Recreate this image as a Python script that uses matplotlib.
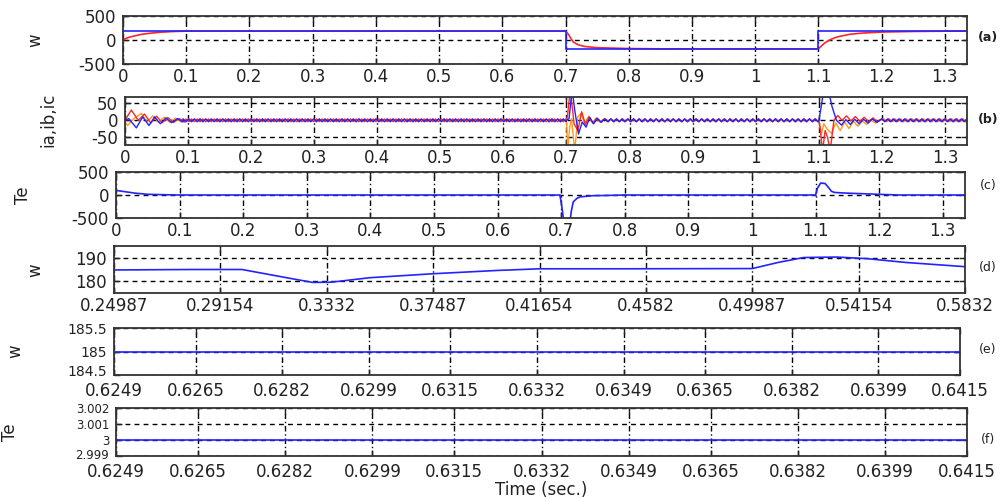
import numpy as np
import matplotlib.pyplot as plt
from matplotlib.transforms import ScaledTranslation

plt.rcParams['font.family'] = ['DejaVu Sans']

W, H = 1005, 499
BLUE = '#2323ff'
RED = '#ff2626'
ORANGE = '#ff9a1a'
FS = 12

# (a) speed: reference and measured
t_ref = [0, 0.7, 0.7, 1.1, 1.1, 1.335]
w_ref = [185, 185, -185, -185, 185, 185]
t_w = [0, 0.005, 0.01, 0.02, 0.03, 0.045, 0.06, 0.08, 0.1, 0.7, 0.702, 0.705,
       0.708, 0.712, 0.72, 0.73, 0.75, 0.8, 0.85, 0.9, 1.1, 1.105, 1.11, 1.12,
       1.13, 1.15, 1.17, 1.2, 1.25, 1.3, 1.335]
w_act = [0, 35, 60, 90, 120, 145, 162, 177, 185, 185, 160, 110,
         40, -40, -100, -135, -160, -178, -184, -185, -185, -120, -60, 15,
         65, 120, 145, 165, 178, 184, 185]

# (b) phase currents: transients after start, reversal and return
ia_t = [[0.000, 0.006, 0.018, 0.028, 0.038, 0.047, 0.056, 0.065, 0.074, 0.083, 0.092],
        [0.700, 0.704, 0.709, 0.713, 0.719, 0.725, 0.731, 0.737, 0.743, 0.749, 0.755, 0.761],
        [1.100, 1.103, 1.108, 1.115, 1.121, 1.128, 1.136, 1.143, 1.150, 1.157, 1.164,
         1.171, 1.178, 1.185, 1.192, 1.200]]
ia_v = [[0, 5, -22, 10, -15, 10, -10, 7, -7, 5, -5],
        [0, 5, 90, 30, -40, -5, -20, 8, -10, 6, -6, 4],
        [0, 30, 90, 90, 40, 0, -14, 2, -12, 3, -10, 3, -8, 4, -6, 4]]
ib_t = [[0.000, 0.010, 0.021, 0.031, 0.041, 0.050, 0.059, 0.068, 0.077, 0.086, 0.095],
        [0.700, 0.702, 0.706, 0.712, 0.718, 0.724, 0.730, 0.736, 0.742, 0.748, 0.754, 0.760],
        [1.100, 1.102, 1.106, 1.110, 1.114, 1.118, 1.124, 1.130, 1.137, 1.144, 1.151,
         1.158, 1.165, 1.172, 1.179, 1.186, 1.193, 1.200]]
ib_v = [[0, 30, 0, 18, -8, 12, -7, 8, -6, 5, -5],
        [0, 20, 90, -10, -30, 25, -12, 10, -8, 6, -5, 4],
        [0, -20, -90, -30, -50, -90, 0, 14, 0, 13, -2, 11, -3, 9, -4, 7, -4, 5]]
ic_t = [[0.000, 0.004, 0.014, 0.026, 0.035, 0.044, 0.053, 0.062, 0.071, 0.080, 0.089],
        [0.700, 0.702, 0.705, 0.708, 0.713, 0.718, 0.723, 0.729, 0.735, 0.741, 0.747, 0.753, 0.759],
        [1.100, 1.104, 1.108, 1.113, 1.120, 1.127, 1.134, 1.141, 1.148, 1.155, 1.162,
         1.169, 1.176, 1.183, 1.190, 1.200]]
ic_v = [[-5, -15, 5, 20, -5, 13, -6, 9, -6, 6, -5],
        [0, -90, -20, 5, -90, 10, 20, -10, 12, -8, 7, -5, 4],
        [0, -40, -10, -25, -38, -8, -30, -5, -24, -3, -17, -2, -12, 0, -8, 3]]
# steady-state ripple between transients
ripple_amp = 4
ripple_half = 0.0045

# (c) electromagnetic torque
t_te = [0, 0.01, 0.03, 0.05, 0.08, 0.1, 0.698, 0.701, 0.704, 0.714, 0.716, 0.719,
        0.725, 0.73, 0.75, 0.77, 0.8, 1.1, 1.103, 1.108, 1.115, 1.12, 1.125, 1.13,
        1.15, 1.2, 1.23, 1.335]
te = [100, 80, 40, 15, 5, 0, 0, -250, -560, -560, -350, -150,
      -70, -40, -15, -10, 0, 0, 150, 260, 250, 170, 80, 55,
      40, 15, 0, 0]

# (d) speed, zoomed window
t_wd = [0.24987, 0.28, 0.30, 0.31, 0.32, 0.3277, 0.335, 0.35, 0.37487, 0.40, 0.41654,
        0.45, 0.49987, 0.51, 0.52, 0.533, 0.545, 0.56, 0.5832]
w_d = [184.8, 185, 185, 183, 181, 179.5, 179.6, 181.5, 183.2, 184.6, 185.3,
       185.3, 185.4, 188, 190.1, 190.3, 189.6, 188, 186.2]

# (e), (f) steady state window
t_ss = [0.6249, 0.6415]
w_ss = [185, 185]
te_ss = [3, 3]

x_ticks_long = [0, 0.1, 0.2, 0.3, 0.4, 0.5, 0.6, 0.7, 0.8, 0.9, 1, 1.1, 1.2, 1.3]
x_ticks_d = [0.24987, 0.29154, 0.3332, 0.37487, 0.41654, 0.4582, 0.49987, 0.54154, 0.5832]
x_ticks_ef = [0.6249, 0.6265, 0.6282, 0.6299, 0.6315, 0.6332, 0.6349, 0.6365,
              0.6382, 0.6399, 0.6415]


def zigzag(t0, t1, shift):
    tt = np.arange(t0 + shift, t1, ripple_half)
    vv = np.resize([ripple_amp, -ripple_amp], len(tt))
    return tt, vv


def phase(ts, vs, shift):
    gaps = [(ts[0][-1], ts[1][0]), (ts[1][-1], ts[2][0]), (ts[2][-1], 1.335)]
    t_all, v_all = list(ts[0]), list(vs[0])
    for k, (g0, g1) in enumerate(gaps):
        zt, zv = zigzag(g0, g1, shift)
        t_all += list(zt)
        v_all += list(zv)
        if k < 2:
            t_all += ts[k + 1]
            v_all += vs[k + 1]
    return t_all, v_all


def box(l, t, r, b):
    return fig.add_axes([l / W, 1 - b / H, (r - l) / W, (b - t) / H])


def style(ax, xlim, ylim, xt, yt, xtl=None, ytl=None):
    ax.set_xlim(xlim)
    ax.set_ylim(ylim)
    ax.set_xticks(xt)
    ax.set_xticklabels(xtl if xtl else ['%g' % v for v in xt])
    ax.set_yticks(yt)
    ax.set_yticklabels(ytl if ytl else ['%g' % v for v in yt])
    ax.tick_params(direction='in', length=4, width=1, labelsize=FS,
                   colors='#222222', top=True, right=True, pad=3)
    ax.tick_params(axis='y', pad=5)
    for s in ax.spines.values():
        s.set_linewidth(1.3)
        s.set_color('#333333')
    ax.xaxis.grid(True, color='k', linestyle=(0, (4, 2, 1, 2)), linewidth=1.0)
    ax.yaxis.grid(True, color='k', linestyle=(0, (3.5, 3)), linewidth=1.0)
    ax.set_axisbelow(True)


def ylab(ax, text, xc, yc):
    # place the rotated label by its centre in figure pixels
    ax.set_ylabel(text, fontsize=FS, color='#222222')
    ax.yaxis.set_label_coords((xc + 7) / W, 1 - yc / H, transform=fig.transFigure)


def lift_lowest(ax, px):
    # nudge the bottom y tick label up so it clears the x tick labels
    lab = ax.get_yticklabels()[0]
    lab.set_transform(lab.get_transform() + ScaledTranslation(0, px / 100, fig.dpi_scale_trans))


fig = plt.figure(figsize=(W / 100, H / 100), dpi=100)

# (a)
ax = box(123, 16, 967, 64)
ax.plot(t_w, w_act, color=RED, lw=1.2)
ax.plot(t_ref, w_ref, color=BLUE, lw=1.2)
style(ax, (0, 1.335), (-500, 500), x_ticks_long, [-500, 0, 500])
ylab(ax, 'w', 37, 40)

# (b)
ax = box(125, 97, 967, 145)
ic_tt, ic_vv = phase(ic_t, ic_v, 0.003)
ib_tt, ib_vv = phase(ib_t, ib_v, 0.0015)
ia_tt, ia_vv = phase(ia_t, ia_v, 0.0)
ax.plot(ic_tt, ic_vv, color=ORANGE, lw=1.0)
ax.plot(ib_tt, ib_vv, color=RED, lw=1.0)
ax.plot(ia_tt, ia_vv, color=BLUE, lw=1.0)
style(ax, (0, 1.335), (-72, 68), x_ticks_long, [-50, 0, 50])
ylab(ax, 'ia,ib,ic', 50, 120)

# (c)
ax = box(116, 172, 965, 218)
ax.plot(t_te, te, color=BLUE, lw=1.2)
style(ax, (0, 1.335), (-500, 500), x_ticks_long, [-500, 0, 500])
ylab(ax, 'Te', 25, 195)

# (d)
ax = box(114, 246, 965, 293)
ax.plot(t_wd, w_d, color=BLUE, lw=1.2)
style(ax, (0.24987, 0.5832), (175, 195), x_ticks_d, [180, 190])
ylab(ax, 'w', 37, 270)

# (e)
ax = box(114, 328, 960, 375)
ax.plot(t_ss, w_ss, color=BLUE, lw=1.2)
style(ax, (0.6249, 0.6415), (184.5, 185.5), x_ticks_ef, [184.5, 185, 185.5],
      xtl=['%.4f' % v for v in x_ticks_ef])
ax.tick_params(axis='y', labelsize=10)
ax.tick_params(axis='x', pad=5)
lift_lowest(ax, 4)
ylab(ax, 'w', 17, 351)

# (f)
ax = box(116, 408, 967, 456)
ax.plot(t_ss, te_ss, color=BLUE, lw=1.2)
style(ax, (0.6249, 0.6415), (2.999, 3.002), x_ticks_ef, [2.999, 3, 3.001, 3.002],
      xtl=['%.4f' % v for v in x_ticks_ef], ytl=['2.999', '3', '3.001', '3.002'])
ax.tick_params(axis='y', labelsize=8.5)
ax.tick_params(axis='x', pad=5)
lift_lowest(ax, 2)
ylab(ax, 'Te', 12, 432)
ax.set_xlabel('Time (sec.)', fontsize=FS, labelpad=0, color='#222222')

# panel tags
tags = [('(a)', 38, 'bold'), ('(b)', 120, 'bold'), ('(c)', 185, 'normal'),
        ('(d)', 268, 'normal'), ('(e)', 350, 'normal'), ('(f)', 439, 'normal')]
for txt, y, fw in tags:
    fig.text(988 / W, 1 - y / H, txt, fontsize=9, fontweight=fw,
             ha='center', va='center', color='#222222')

fig.savefig('out.png', dpi=100)
